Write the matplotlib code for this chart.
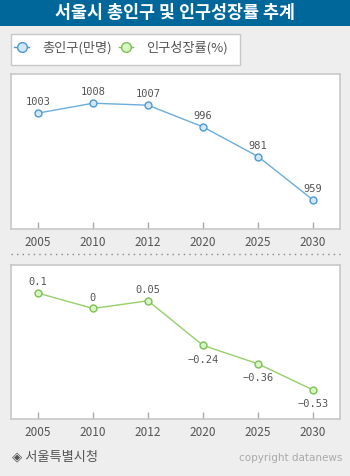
import matplotlib
matplotlib.use("Agg")
import matplotlib.pyplot as plt
from matplotlib.patches import Rectangle
from matplotlib.lines import Line2D

plt.rcParams['font.family'] = ['Noto Sans CJK KR', 'DejaVu Sans']

# data
years = ['2005', '2010', '2012', '2020', '2025', '2030']
population = [1003, 1008, 1007, 996, 981, 959]   # 만명
growth = [0.1, 0, 0.05, -0.24, -0.36, -0.53]      # %
growth_labels = ['0.1', '0', '0.05', '-0.24', '-0.36', '-0.53']

W, H = 350, 477
BG = '#eeeeee'
BORDER = '#c8c8c8'
TXT = '#555555'
BLUE_LINE, BLUE_EDGE, BLUE_FILL = '#6aaedb', '#4b9ad1', '#d3e6f6'
GREEN_LINE, GREEN_EDGE, GREEN_FILL = '#96cf6a', '#7dbf55', '#d6f7c4'


def px_box(left, top, right, bottom):
    # pixel box (from top-left) -> figure fraction rect
    return [left / W, (H - bottom) / H, (right - left) / W, (bottom - top) / H]


fig = plt.figure(figsize=(W / 100, H / 100), dpi=100)
fig.patch.set_facecolor(BG)

# title bar
fig.patches.append(Rectangle((0, 1 - 26.5 / H), 1, 26.5 / H, transform=fig.transFigure,
                             facecolor='#00679b', edgecolor='none'))
fig.text(0.5, 1 - 13.5 / H, '서울시 총인구 및 인구성장률 추계', color='white',
         fontsize=12.5, fontweight='bold', ha='center', va='center')

# legend box
fig.patches.append(Rectangle((10.5 / W, 1 - 66 / H), 229.5 / W, 31 / H, transform=fig.transFigure,
                             facecolor='white', edgecolor=BORDER, linewidth=1))
for x0, tx, lab, ln, ed, fc in [(21.5, 42, '총인구(만명)', BLUE_LINE, BLUE_EDGE, BLUE_FILL),
                                (126, 146, '인구성장률(%)', GREEN_LINE, GREEN_EDGE, GREEN_FILL)]:
    yy = 1 - 47.5 / H
    fig.add_artist(Line2D([(x0 - 7) / W, (x0 + 7) / W], [yy, yy], transform=fig.transFigure,
                          color=ed, linewidth=1))
    fig.add_artist(Line2D([x0 / W], [yy], transform=fig.transFigure, marker='o', markersize=7,
                          markerfacecolor=fc, markeredgecolor=ed, markeredgewidth=1, linestyle='none'))
    fig.text(tx / W, yy, lab, color=TXT, fontsize=9.5, ha='left', va='center')


def style_axes(ax):
    ax.set_facecolor('white')
    for s in ax.spines.values():
        s.set_color(BORDER)
        s.set_linewidth(1.2)
    ax.set_xlim(-0.49, 5.49)
    ax.set_xticks(range(len(years)))
    ax.set_xticklabels(years)
    ax.set_yticks([])
    ax.tick_params(axis='x', direction='in', length=5, width=1, color='#aaaaaa',
                   labelsize=8.5, labelcolor=TXT, pad=4)


x = list(range(len(years)))

# top panel: 총인구
ax1 = fig.add_axes(px_box(11, 75, 340, 230))
style_axes(ax1)
ax1.set_ylim(944.3, 1022.8)
ax1.plot(x, population, color=BLUE_LINE, linewidth=1, marker='o', markersize=5,
         markerfacecolor=BLUE_FILL, markeredgecolor=BLUE_EDGE, markeredgewidth=1)
for xi, v in zip(x, population):
    ax1.annotate(str(v), (xi, v), xytext=(0, 5), textcoords='offset points',
                 ha='center', va='bottom', fontsize=7.5, color=TXT, family='DejaVu Sans Mono')

# dotted separator
fig.add_artist(Line2D([11 / W, 340 / W], [1 - 255 / H, 1 - 255 / H], transform=fig.transFigure,
                      color='#888888', linewidth=1, linestyle=(0, (1, 3))))

# bottom panel: 인구성장률
ax2 = fig.add_axes(px_box(11, 265.5, 340, 420))
style_axes(ax2)
ax2.set_ylim(-0.719, 0.286)
ax2.plot(x, growth, color=GREEN_LINE, linewidth=1, marker='o', markersize=5,
         markerfacecolor=GREEN_FILL, markeredgecolor=GREEN_EDGE, markeredgewidth=1)
for xi, v, lab in zip(x, growth, growth_labels):
    if v >= 0:
        ax2.annotate(lab, (xi, v), xytext=(0, 5), textcoords='offset points',
                     ha='center', va='bottom', fontsize=7.5, color=TXT, family='DejaVu Sans Mono')
    else:
        ax2.annotate(lab.replace('-', '\u2212'), (xi, v), xytext=(0, -6), textcoords='offset points',
                     ha='center', va='top', fontsize=7.5, color=TXT, family='DejaVu Sans Mono')

# footer
fig.text(12 / W, 1 - 457 / H, '◈ 서울특별시청', color=TXT, fontsize=9.5, ha='left', va='center',
         family=['Noto Sans CJK KR', 'DejaVu Sans'])
fig.text(342 / W, 1 - 458 / H, 'copyright datanews', color='#aaaaaa', fontsize=7.5,
         ha='right', va='center', family='DejaVu Sans')

fig.savefig('out.png', dpi=100, facecolor=BG)
